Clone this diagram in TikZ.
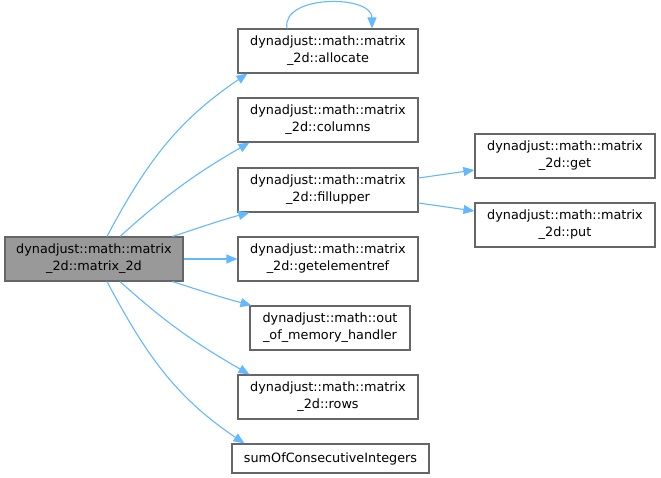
\documentclass[tikz,border=0pt]{standalone}
\usepackage{fontspec}
\setmainfont{DejaVu Sans}
\usepackage{tikz}
\usetikzlibrary{arrows.meta,positioning}
\definecolor{edgeblue}{HTML}{63B8FF}
\definecolor{boxgray}{HTML}{666666}
\definecolor{mainfill}{HTML}{999999}
\tikzset{
  fnbox/.style={draw=boxgray, line width=1.1pt, fill=white, align=center, inner sep=0pt, minimum width=180pt, minimum height=44pt, font=\fontsize{12.8}{17}\selectfont},
  mainbox/.style={fnbox, fill=mainfill, minimum width=178pt},
  edge/.style={-{Triangle[length=11pt,width=9pt]}, draw=edgeblue, line width=1.1pt}
}

\begin{document}
\begin{tikzpicture}[x=1pt, y=1pt]
\useasboundingbox (0,0) rectangle (661,-478);
\node[mainbox] (m2d) at (94,-259) {dynadjust::math::matrix\\\_2d::matrix\_2d};
\node[fnbox] (alloc) at (328,-51) {dynadjust::math::matrix\\\_2d::allocate};
\node[fnbox] (cols) at (328,-120) {dynadjust::math::matrix\\\_2d::columns};
\node[fnbox] (fill) at (328,-190) {dynadjust::math::matrix\\\_2d::fillupper};
\node[fnbox] (elref) at (328,-259) {dynadjust::math::matrix\\\_2d::getelementref};
\node[fnbox, minimum width=160pt] (oom) at (330,-328) {dynadjust::math::out\\\_of\_memory\_handler};
\node[fnbox] (rows) at (328,-397) {dynadjust::math::matrix\\\_2d::rows};
\node[fnbox, minimum width=197pt, minimum height=29pt] (sumci) at (330.5,-458.5) {sumOfConsecutiveIntegers};
\node[fnbox] (get) at (565,-156) {dynadjust::math::matrix\\\_2d::get};
\node[fnbox] (put) at (565,-225) {dynadjust::math::matrix\\\_2d::put};

\draw[edge] ([xshift=13pt]m2d.north) to[out=62, in=-146] ([xshift=10pt]alloc.south west);
\draw[edge] ([xshift=26pt]m2d.north) to[out=42, in=-150] ([xshift=12pt]cols.south west);
\draw[edge] ([xshift=-11pt]m2d.north east) to[out=18, in=-165] ([xshift=12pt]fill.south west);
\draw[edge] (m2d.east) -- (elref.west);
\draw[edge] ([xshift=-11pt]m2d.south east) to[out=-18, in=165] ([xshift=2pt]oom.north west);
\draw[edge] ([xshift=26pt]m2d.south) to[out=-42, in=150] ([xshift=12pt]rows.north west);
\draw[edge] ([xshift=13pt]m2d.south) to[out=-62, in=146] ([xshift=13pt]sumci.north west);
% self call
\draw[edge] ([xshift=-41pt]alloc.north) .. controls +(-6,34) and +(0,34) .. ([xshift=44pt]alloc.north);
\draw[edge] ([yshift=12pt]fill.east) -- ([yshift=-14pt]get.west);
\draw[edge] ([yshift=-13pt]fill.east) -- ([yshift=14pt]put.west);
\end{tikzpicture}
\end{document}
